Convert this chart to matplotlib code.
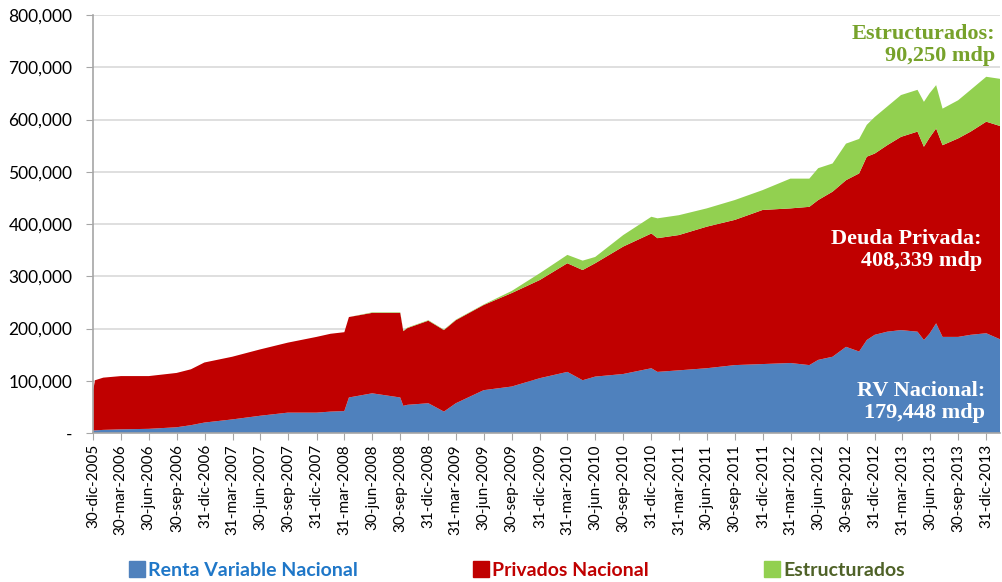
import numpy as np
import pandas as pd
import matplotlib
matplotlib.use('Agg')
import matplotlib.pyplot as plt
import matplotlib.ticker as mticker
from matplotlib.lines import Line2D

plt.rcParams['font.family'] = ['Lato', 'DejaVu Sans']

# fechas y valores (miles de millones de pesos)
fechas = ['2005-12-30', '2006-01-05', '2006-02-01', '2006-03-31', '2006-06-30',
          '2006-09-29', '2006-11-15', '2006-12-29', '2007-03-30', '2007-06-29',
          '2007-09-28', '2007-12-31', '2008-02-15', '2008-03-31', '2008-04-15',
          '2008-06-30', '2008-09-30', '2008-10-10', '2008-10-24', '2008-12-31',
          '2009-02-20', '2009-03-31', '2009-06-30', '2009-09-30', '2009-12-31',
          '2010-03-31', '2010-05-20', '2010-06-30', '2010-09-30', '2010-12-31',
          '2011-01-20', '2011-03-31', '2011-06-30', '2011-09-30', '2011-12-30',
          '2012-03-30', '2012-05-31', '2012-06-29', '2012-08-15', '2012-09-28',
          '2012-11-10', '2012-12-05', '2012-12-31', '2013-02-10', '2013-03-27',
          '2013-05-20', '2013-06-10', '2013-06-28', '2013-07-20', '2013-08-10',
          '2013-09-30', '2013-11-10', '2013-12-31', '2014-02-14']

rv_nacional = [5, 5, 6, 7, 8, 11, 15, 20, 26, 33,
               39, 39, 41, 42, 68, 76, 68, 52, 54, 57,
               41, 57, 82, 89, 105, 117, 101, 108, 113, 124,
               117, 120, 124, 130, 132, 134, 130, 140, 146, 165,
               156, 178, 188, 194, 197, 194, 178, 190, 210, 184,
               184, 188, 191, 179.448]

privados = [77, 96, 100, 102, 101, 104, 107, 115, 120, 127,
            134, 145, 149, 151, 154, 154, 162, 143, 147, 158,
            156, 159, 163, 179, 188, 208, 211, 217, 244, 258,
            256, 259, 271, 278, 295, 296, 303, 306, 316, 319,
            341, 351, 347, 357, 370, 383, 370, 375, 373, 367,
            380, 389, 405, 408.339]

estructurados = [0, 0, 0, 0, 0, 0, 0, 0, 0, 0,
                 0, 0, 0, 0, 0, 1, 1, 1, 1, 1,
                 1, 1, 1, 4, 13, 16, 18, 12, 22, 32,
                 38, 38, 35, 38, 38, 57, 54, 61, 54, 70,
                 66, 61, 70, 74, 80, 80, 86, 85, 83, 70,
                 73, 80, 86, 90.25]

etiquetas = ['30-dic-2005', '30-mar-2006', '30-jun-2006', '30-sep-2006', '31-dic-2006',
             '31-mar-2007', '30-jun-2007', '30-sep-2007', '31-dic-2007', '31-mar-2008',
             '30-jun-2008', '30-sep-2008', '31-dic-2008', '31-mar-2009', '30-jun-2009',
             '30-sep-2009', '31-dic-2009', '31-mar-2010', '30-jun-2010', '30-sep-2010',
             '31-dic-2010', '31-mar-2011', '30-jun-2011', '30-sep-2011', '31-dic-2011',
             '31-mar-2012', '30-jun-2012', '30-sep-2012', '31-dic-2012', '31-mar-2013',
             '30-jun-2013', '30-sep-2013', '31-dic-2013']

meses = {'dic': 12, 'mar': 3, 'jun': 6, 'sep': 9}

x = pd.to_datetime(fechas)
rv = np.array(rv_nacional) * 1000
pr = np.array(privados) * 1000
es = np.array(estructurados) * 1000

ticks = [pd.Timestamp(int(e.split('-')[2]), meses[e.split('-')[1]], int(e.split('-')[0]))
         for e in etiquetas]

c_rv, c_pr, c_es = '#4F81BD', '#C00000', '#92D050'

fig = plt.figure(figsize=(10.02, 5.82), dpi=100)
ax = fig.add_axes([0.093, 0.256, 0.905, 0.718])

ax.stackplot(x, rv, pr, es, colors=[c_rv, c_pr, c_es], linewidth=0)

ax.set_xlim(x[0], x[-1])
ax.set_ylim(0, 800000)
ax.set_yticks(np.arange(0, 800001, 100000))
ax.yaxis.set_major_formatter(mticker.FuncFormatter(
    lambda v, p: '-' if v == 0 else '{:,.0f}'.format(v)))
ax.set_xticks(ticks)
ax.set_xticklabels(etiquetas, rotation=90, fontsize=11, color='#000000')
ax.tick_params(axis='y', labelsize=12.5, length=5, color='#A6A6A6', pad=10)
ax.tick_params(axis='x', length=5, color='#A6A6A6', pad=3)

ax.grid(axis='y', color='#D9D9D9', linewidth=1.2)
ax.set_axisbelow(True)
for s in ['top', 'right']:
    ax.spines[s].set_visible(False)
for s in ['left', 'bottom']:
    ax.spines[s].set_color('#A6A6A6')
    ax.spines[s].set_linewidth(1.2)

serif = ['Liberation Serif', 'DejaVu Serif']
ax.text(0.9945, 0.928, 'Estructurados:\n90,250 mdp', transform=ax.transAxes,
        ha='right', va='center', ma='right', fontsize=16, fontweight='bold',
        color='#77A22B', family=serif, linespacing=1.15)
ax.text(0.980, 0.438, 'Deuda Privada:\n408,339 mdp', transform=ax.transAxes,
        ha='right', va='center', ma='right', fontsize=16, fontweight='bold',
        color='white', family=serif, linespacing=1.15)
ax.text(0.9835, 0.074, 'RV Nacional:\n179,448 mdp', transform=ax.transAxes,
        ha='right', va='center', ma='right', fontsize=16, fontweight='bold',
        color='white', family=serif, linespacing=1.15)

handles = [Line2D([], [], marker='s', ls='', markersize=12, color=c) for c in [c_rv, c_pr, c_es]]
leg = fig.legend(handles, ['Renta Variable Nacional', 'Privados Nacional', 'Estructurados'],
                 loc='center', bbox_to_anchor=(0.515, 0.02), ncol=3, frameon=False,
                 prop={'size': 14, 'weight': 'bold'}, handletextpad=0.1,
                 columnspacing=5.8, handlelength=1.0)
for t, c in zip(leg.get_texts(), ['#1F77C8', '#C00000', '#4F6228']):
    t.set_color(c)

fig.savefig('out.png', dpi=100)
